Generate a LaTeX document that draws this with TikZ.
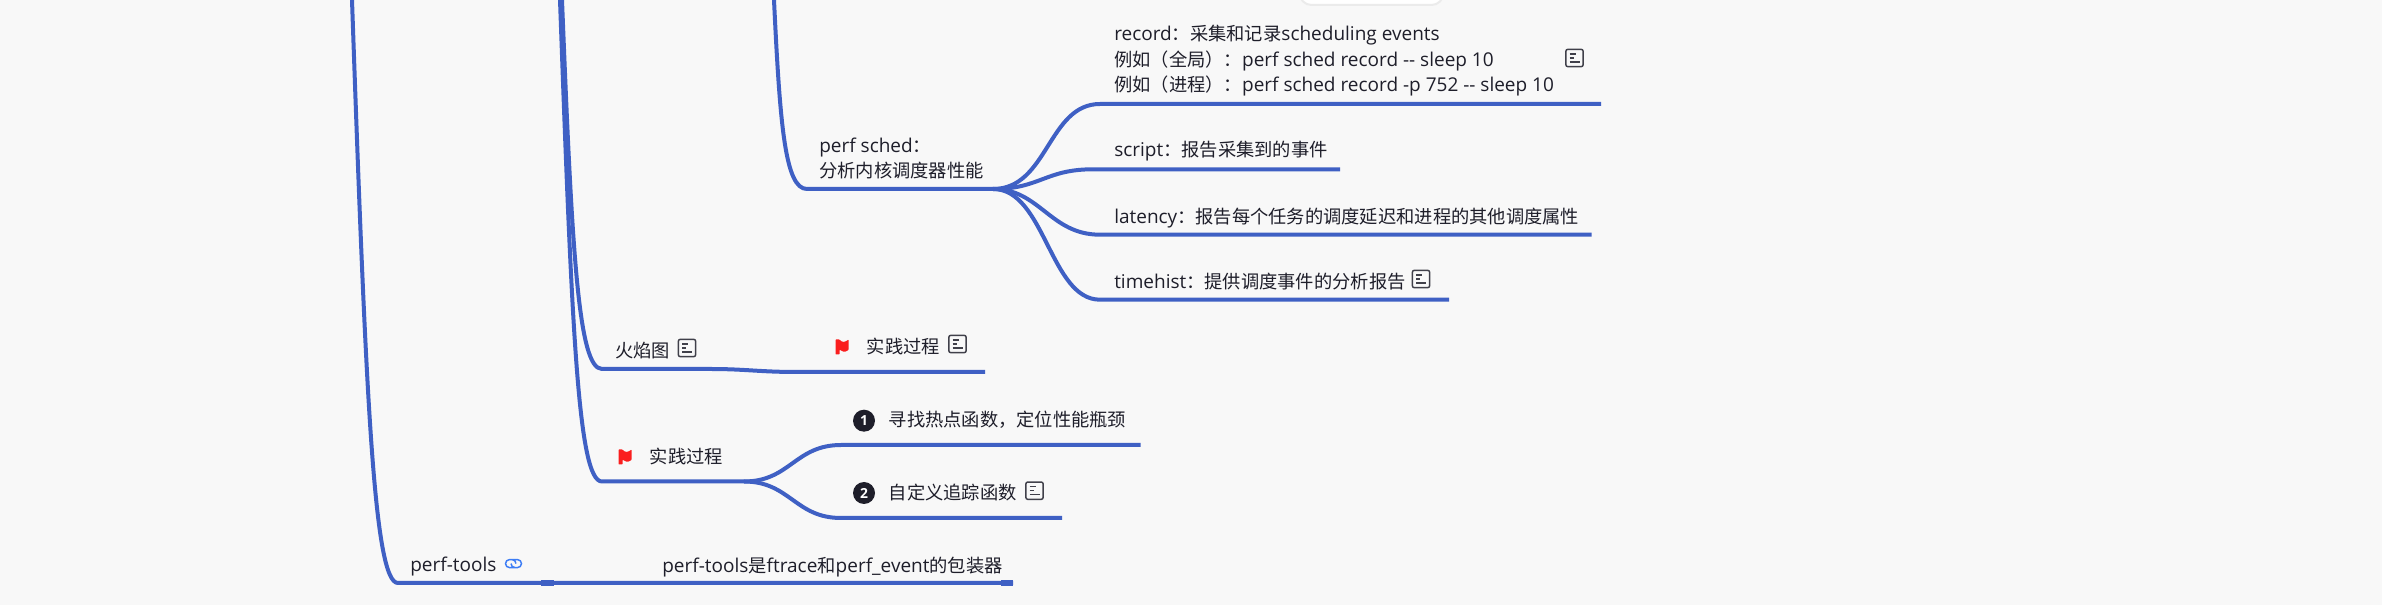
\documentclass[tikz,border=0pt]{standalone}
\usepackage{fontspec}
\setmainfont{Open Sans}[Scale=1.04]
\newfontfamily\zhfont{Noto Sans CJK SC}
\newcommand{\zh}[1]{{\zhfont #1}}
\usepackage{tikz}
\definecolor{pagebg}{HTML}{F8F8F8}
\definecolor{branchblue}{HTML}{3F60C4}
\definecolor{inkdark}{HTML}{1E1E2A}
\definecolor{flagred}{HTML}{FA1E1E}
\definecolor{linkblue}{HTML}{3D7DF5}

\begin{document}
\begin{tikzpicture}[x = 0.75pt, y = -0.75pt,
        branch/.style = {draw = branchblue, line width = 3pt},
        joint/.style = {draw = branchblue, line width = 3.9pt},
        topic/.style = {anchor = west, inner sep = 0, text = inkdark, align = left, font = \fontsize{13.7}{19.1}\selectfont},
        noteicon/.style = {draw = inkdark!85, line width = 1.1pt, rounded corners = 1.5pt, inner sep = 0, minimum size = 13pt,
            path picture = {
                \draw [inkdark!85, line width = 1pt] ([shift = {(-5, -4)}] path picture bounding box.center) -- ++(6, 0)
                    ([shift = {(-5, 0)}] path picture bounding box.center) -- ++(4, 0)
                    ([shift = {(-5, 4)}] path picture bounding box.center) -- ++(10, 0);
            }},
        flagicon/.style = {inner sep = 0, minimum width = 10.5pt, minimum height = 12pt,
            path picture = {
                \fill [flagred, shift = {(path picture bounding box.center)}, rounded corners = 0.5pt]
                    (-6.5, -7.5) -- (-2.5, -7.5) .. controls (0, -4.5) and (3, -4.5) .. (6.5, -7.5) -- (6.5, 3)
                    .. controls (3, 5.5) and (0, 5) .. (-2.5, 2.5) -- (-2.5, 7.5) -- (-6.5, 7.5) -- cycle;
            }},
        stepdot/.style = {circle, fill = inkdark, text = white, inner sep = 0, minimum size = 16.5pt, font = \fontsize{10}{10}\bfseries\selectfont},
        linkicon/.style = {inner sep = 0, minimum width = 13.5pt, minimum height = 8pt,
            path picture = {
                \draw [linkblue, line width = 1.1pt, rounded corners = 3pt, shift = {(path picture bounding box.center)}]
                    (1, 4) -- (-8, 4) -- (-8, -4) -- (2.5, -4) -- (2.5, 0)
                    (-1, -4) -- (8, -4) -- (8, 4) -- (-2.5, 4) -- (-2.5, 0);
            }}]

        \path [use as bounding box, fill = pagebg] (0, 0) rectangle (2382, 605);
        \clip (0, 0) rectangle (2382, 605);

        \node [draw = black!8, fill = white, line width = 1.5pt, rounded corners = 9pt, minimum width = 108pt, minimum height = 30pt] (toolbar) at (1371.5, -15) {};

        \coordinate (maintop) at (352, 0);
        \coordinate (subtop) at (560, 0);
        \coordinate (flametop) at (562, 0);
        \coordinate (schedtop) at (774, 0);
        \coordinate (toolsfork) at (398, 583);
        \coordinate (toolsend) at (1013, 583);
        \coordinate (toolsjoin) at (541, 583);
        \coordinate (toolsjoinend) at (554, 583);
        \coordinate (toolstail) at (1001, 583);
        \coordinate (schedfork) at (807, 189);
        \coordinate (schedend) at (993, 189);
        \coordinate (recordfork) at (1100, 104);
        \coordinate (recordend) at (1601, 104);
        \coordinate (scriptfork) at (1093, 169.3);
        \coordinate (scriptend) at (1340, 169.3);
        \coordinate (latencyfork) at (1100, 234.7);
        \coordinate (latencyend) at (1591.5, 234.7);
        \coordinate (timehistfork) at (1100, 299.7);
        \coordinate (timehistend) at (1449, 299.7);
        \coordinate (flamefork) at (602, 369);
        \coordinate (flamemid) at (711, 369);
        \coordinate (flamestep) at (797, 372);
        \coordinate (flameend) at (985, 372);
        \coordinate (stepsfork) at (602, 481.5);
        \coordinate (stepsend) at (744, 481.5);
        \coordinate (hotfork) at (841, 445);
        \coordinate (hotend) at (1140.5, 445);
        \coordinate (tracefork) at (841, 518);
        \coordinate (traceend) at (1062, 518);

        \draw [branch] (maintop) .. controls (366, 400) and (374, 583) .. (toolsfork) -- (toolsend);
        \draw [joint] (toolsjoin) -- (toolsjoinend);
        \draw [joint] (toolstail) -- (toolsend);
        \draw [branch] (subtop) .. controls (572, 330) and (578, 481.5) .. (stepsfork) -- (stepsend);
        \draw [branch] (flametop) .. controls (572, 250) and (578, 369) .. (flamefork) -- (flamemid)
            .. controls (745, 369) and (760, 372) .. (flamestep) -- (flameend);
        \draw [branch] (schedtop) .. controls (780, 125) and (785, 189) .. (schedfork) -- (schedend);

        \draw [branch] (schedend) .. controls (1048, 189) and (1048, 104) .. (recordfork) -- (recordend);
        \draw [branch] (schedend) .. controls (1040, 189) and (1045, 169.3) .. (scriptfork) -- (scriptend);
        \draw [branch] (schedend) .. controls (1040, 189) and (1050, 234.7) .. (latencyfork) -- (latencyend);
        \draw [branch] (schedend) .. controls (1045, 189) and (1050, 299.7) .. (timehistfork) -- (timehistend);
        \draw [branch] (stepsend) .. controls (790, 481.5) and (795, 445) .. (hotfork) -- (hotend);
        \draw [branch] (stepsend) .. controls (790, 481.5) and (795, 518) .. (tracefork) -- (traceend);

        \node [topic] (record) at (1114, 61) {record\zh{：采集和记录}scheduling events\\\zh{例如（全局）：}perf sched record -{}- sleep 10\\\zh{例如（进程）：}perf sched record -p 752 -{}- sleep 10};
        \node [noteicon] (recordnote) at (1574.5, 58) {};
        \node [topic] (script) at (1114, 151.5) {script\zh{：报告采集到的事件}};
        \node [topic] (latency) at (1114, 218) {latency\zh{：报告每个任务的调度延迟和进程的其他调度属性}};
        \node [topic] (timehist) at (1114, 282) {timehist\zh{：提供调度事件的分析报告}};
        \node [noteicon] (timehistnote) at (1421, 279) {};
        \node [topic] (sched) at (819, 158.5) {perf sched\zh{：}\\\zh{分析内核调度器性能}};

        \node [topic] (flame) at (615, 351) {\zh{火焰图}};
        \node [noteicon] (flamenote) at (687, 348) {};
        \node [flagicon] (flameflag) at (842, 347) {};
        \node [topic] (flamesteps) at (866.5, 346) {\zh{实践过程}};
        \node [noteicon] (flamestepsnote) at (957.5, 344) {};

        \node [flagicon] (stepsflag) at (625, 457) {};
        \node [topic] (steps) at (649.5, 456) {\zh{实践过程}};
        \node [stepdot] (hotdot) at (864, 420.7) {1};
        \node [topic] (hot) at (888.5, 420) {\zh{寻找热点函数，定位性能瓶颈}};
        \node [stepdot] (tracedot) at (864, 493) {2};
        \node [topic] (trace) at (888.5, 492.7) {\zh{自定义追踪函数}};
        \node [noteicon] (tracenote) at (1034.5, 490.7) {};

        \node [topic] (tools) at (410, 566.5) {perf-tools};
        \node [linkicon] (toolslink) at (513.5, 563.6) {};
        \node [topic] (toolsnote) at (662, 567) {perf-tools\zh{是}ftrace\zh{和}perf\_event\zh{的包装器}};
    \end{tikzpicture}
\end{document}
